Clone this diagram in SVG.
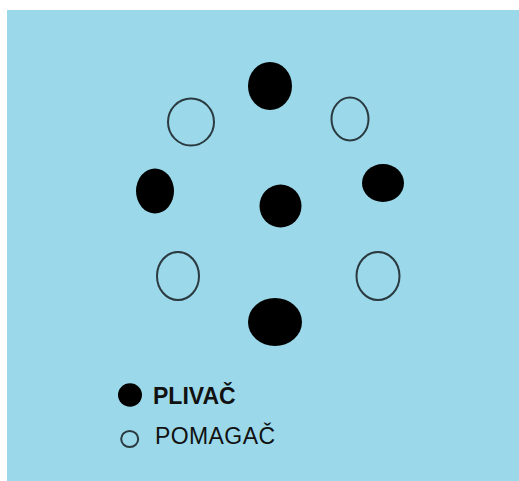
<svg xmlns="http://www.w3.org/2000/svg" width="519" height="481" viewBox="0 0 519 481">
<style>
.pl{fill:#000}
.pm{fill:none;stroke:#2a3a40;stroke-width:2}
.t{font-family:"Liberation Sans",Arial,sans-serif;fill:#111;font-size:23px}
</style>
<rect x="0" y="0" width="519" height="481" fill="#fff"/>
<rect x="7" y="10" width="512" height="471" fill="#9bd9ea"/>
<g id="plivac-top"><ellipse class="pl" cx="270" cy="86" rx="22" ry="24"/></g>
<g id="pomagac-ul"><ellipse class="pm" cx="191" cy="122" rx="23" ry="23.5"/></g>
<g id="pomagac-ur"><ellipse class="pm" cx="350" cy="119" rx="18.5" ry="21.5"/></g>
<g id="plivac-left"><ellipse class="pl" cx="155" cy="191" rx="19" ry="22.5"/></g>
<g id="plivac-center"><ellipse class="pl" cx="280.5" cy="206" rx="21" ry="21.5"/></g>
<g id="plivac-right"><ellipse class="pl" cx="383" cy="183" rx="21" ry="19"/></g>
<g id="pomagac-ll"><ellipse class="pm" cx="178" cy="276" rx="21" ry="24"/></g>
<g id="pomagac-lr"><ellipse class="pm" cx="378" cy="276" rx="21.5" ry="24"/></g>
<g id="plivac-bottom"><ellipse class="pl" cx="275" cy="322" rx="27" ry="24"/></g>
<g id="connectors"></g>
<g id="legend">
<ellipse class="pl" cx="130" cy="395" rx="12" ry="11.7"/>
<text class="t" x="153" y="403.5" font-weight="bold">PLIVAČ</text>
<ellipse class="pm" cx="129.7" cy="439" rx="8.5" ry="8"/>
<text class="t" x="155" y="443.5" textLength="120" lengthAdjust="spacing">POMAGAČ</text>
</g>
</svg>
